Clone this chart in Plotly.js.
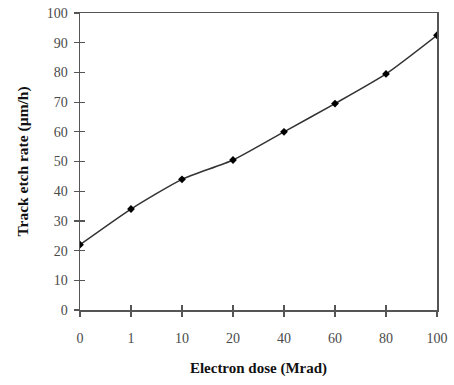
<!DOCTYPE html>
<html>
<head>
<meta charset="utf-8">
<script src="https://cdn.plot.ly/plotly-3.0.1.min.js"></script>
<style>html,body{margin:0;padding:0;background:#fff;}#chart{width:454px;height:385px;}</style>
</head>
<body>
<div id="chart"></div>
<script>
const doseLabels = ["0", "1", "10", "20", "40", "60", "80", "100"];
const etchRate = [22, 34, 44, 50.5, 60, 69.5, 79.5, 92.5];
const yTicks = [0, 10, 20, 30, 40, 50, 60, 70, 80, 90, 100];

const axisColor = "#555";
const serif = "Liberation Serif, Times New Roman, serif";

const trace = {
  x: doseLabels,
  y: etchRate,
  type: "scatter",
  mode: "lines+markers",
  line: {color: "#333", width: 1.5, shape: "spline", smoothing: 0.6},
  marker: {color: "#000", size: 6, symbol: "diamond"},
  hoverinfo: "x+y"
};

const layout = {
  width: 454, height: 385,
  margin: {l: 80, r: 17, t: 13, b: 75},
  paper_bgcolor: "#fff", plot_bgcolor: "#fff",
  font: {family: serif, size: 14, color: "#444"},
  showlegend: false,
  xaxis: {
    type: "category", range: [0, 7],
    showgrid: false, zeroline: false,
    showline: true, linecolor: axisColor, linewidth: 1.5, mirror: true,
    ticks: "outside", ticklen: 5, tickwidth: 1.2, tickcolor: axisColor,
    tickfont: {family: serif, size: 14, color: "#4a4a4a"}, ticklabelstandoff: 10,
    title: {text: "<b>Electron dose (Mrad)</b>", font: {family: serif, size: 15, color: "#111"}, standoff: 17}
  },
  yaxis: {
    range: [0, 100], tickvals: yTicks,
    showgrid: false, zeroline: false,
    showline: true, linecolor: axisColor, linewidth: 1.5, mirror: true,
    ticks: "outside", ticklen: 5, tickwidth: 1.2, tickcolor: axisColor,
    tickfont: {family: serif, size: 14, color: "#4a4a4a"}, ticklabelstandoff: 3,
    title: {text: "<b>Track etch rate (\u00b5m/h)</b>", font: {family: serif, size: 15.5, color: "#111"}, standoff: 14}
  },
  xaxis2: {
    type: "category", range: [0, 7], overlaying: "x",
    showgrid: false, zeroline: false, showline: false,
    ticks: "inside", ticklen: 5, tickwidth: 1.2, tickcolor: axisColor,
    showticklabels: false, categoryarray: doseLabels, categoryorder: "array"
  },
  yaxis2: {
    range: [0, 100], tickvals: yTicks, overlaying: "y",
    showgrid: false, zeroline: false, showline: false,
    ticks: "inside", ticklen: 5, tickwidth: 1.2, tickcolor: axisColor,
    showticklabels: false
  }
};

const tickTrace = {
  x: doseLabels, y: etchRate, xaxis: "x2", yaxis: "y2",
  type: "scatter", mode: "none", hoverinfo: "skip", showlegend: false
};

Plotly.newPlot("chart", [tickTrace, trace], layout, {staticPlot: true});
</script>
</body>
</html>
